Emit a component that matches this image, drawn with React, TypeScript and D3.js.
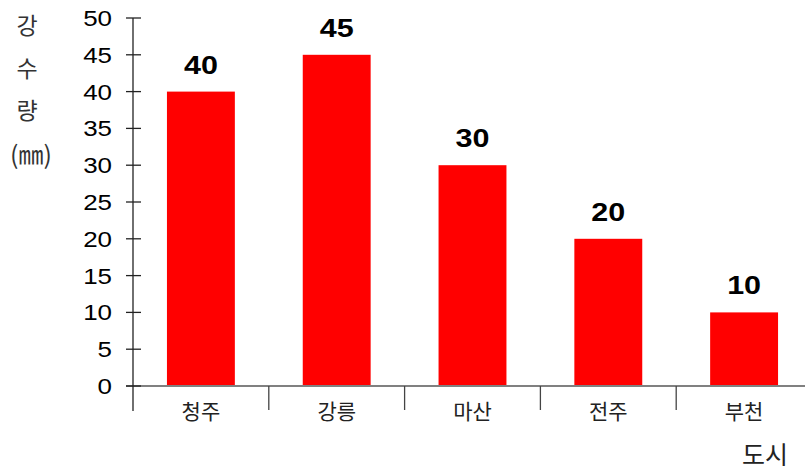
import React from "react";
import * as d3 from "d3";

const categories = ["청주", "강릉", "마산", "전주", "부천"];
const values = [40, 45, 30, 20, 10];
const yTicks = [0, 5, 10, 15, 20, 25, 30, 35, 40, 45, 50];
const yLabelChars = ["강", "수", "량", "(㎜)"];
const xTitle = "도시";

export default function App() {
  const W = 805, H = 470;
  const x0 = 133, x1 = 812;
  const y = d3.scaleLinear().domain([0, 50]).range([386, 18]);
  const x = d3.scaleBand().domain(categories).range([x0, x1]).paddingInner(0).paddingOuter(0);
  const bw = x.bandwidth() * 0.5;
  const sans = "'Liberation Sans', Arial, sans-serif";
  const kr = "'Noto Sans CJK KR', sans-serif";
  const yTitleY = [26, 69, 111, 155];
  return (
    <svg width={W} height={H} style={{ position: "absolute", left: 0, top: 0, background: "#fff" }}>
      {/* bars */}
      {categories.map((c, i) => {
        const cx = (x(c) as number) + x.bandwidth() / 2;
        const ly = y(values[i]) - 18;
        return (
          <g key={c}>
            <rect x={cx - bw / 2} y={y(values[i])} width={bw} height={y(0) - y(values[i])} fill="#ff0000" />
            <g transform={`translate(${cx},${ly}) scale(1.22,1)`}>
              <text x={0} y={0} textAnchor="middle" fontFamily={sans} fontWeight="bold" fontSize={25} fill="#000">
                {values[i]}
              </text>
            </g>
            <text x={cx} y={411} dy="0.36em" textAnchor="middle" fontFamily={kr} fontSize={21} fill="#222">
              {c}
            </text>
          </g>
        );
      })}
      {/* baseline */}
      <line x1={126} x2={W} y1={y(0)} y2={y(0)} stroke="#808080" strokeWidth={2} />
      {/* category separators */}
      {categories.slice(1).map((c) => (
        <line key={c} x1={x(c) as number} x2={x(c) as number} y1={y(0)} y2={410} stroke="#444" strokeWidth={1.3} />
      ))}
      {/* y axis */}
      <line x1={x0} x2={x0} y1={y(50)} y2={411} stroke="#222" strokeWidth={1.3} />
      {yTicks.map((t) => (
        <g key={t} transform={`translate(112,${y(t)}) scale(1.18,1)`}>
          <text x={0} y={0} dy="0.36em" textAnchor="end" fontFamily={sans} fontSize={22} fill="#000">
            {t}
          </text>
        </g>
      ))}
      {yTicks.map((t) => (
        <line key={"tk" + t} x1={126} x2={141} y1={y(t)} y2={y(t)} stroke="#222" strokeWidth={1.3} />
      ))}
      {/* y title */}
      {yLabelChars.map((ch, i) => (
        <text key={i} x={i === 3 ? 31 : 27} y={yTitleY[i]} dy="0.36em" textAnchor="middle" fontFamily={kr} fontSize={i === 3 ? 25 : 23} fill="#333">
          {ch}
        </text>
      ))}
      <text x={765} y={455} dy="0.36em" textAnchor="middle" fontFamily={kr} fontSize={25} fill="#222">
        {xTitle}
      </text>
    </svg>
  );
}
